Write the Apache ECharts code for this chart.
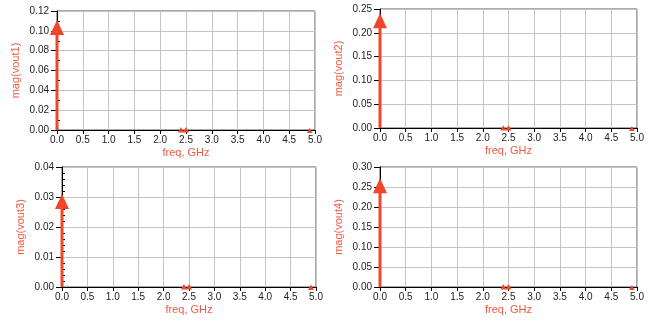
<!DOCTYPE html>
<html><head><meta charset="utf-8">
<script src="https://cdn.jsdelivr.net/npm/echarts@6/dist/echarts.min.js"></script>
<style>html,body{margin:0;padding:0;background:#fff}#c{width:651px;height:329px}</style>
</head><body><div id="c"></div>
<script>
// Data (frequency in GHz, magnitude)
const freqGHz = [0.0, 2.4, 2.5, 4.9];
const vout1Mag = [0.111, 0.003, 0.003, 0.002];
const vout2Mag = [0.241, 0.006, 0.006, 0.004];
const vout3Mag = [0.031, 0.001, 0.001, 0.0008];
const vout4Mag = [0.272, 0.0075, 0.0075, 0.005];
const yNames = ['mag(vout1)', 'mag(vout2)', 'mag(vout3)', 'mag(vout4)'];
const yMax = [0.12, 0.25, 0.04, 0.30];
const yStep = [0.02, 0.05, 0.01, 0.05];
const yMinorSplit = [2, 0, 5, 0];
const xName = 'freq, GHz';

const mags = [vout1Mag, vout2Mag, vout3Mag, vout4Mag];
const RED = '#F0462A';
const NAME_RED = '#F05A42';
const FONT = 'Liberation Sans';

const grids = [
  {left: 57, top: 11, width: 258, height: 119},
  {left: 380, top: 9, width: 257, height: 119},
  {left: 62, top: 167, width: 254, height: 120},
  {left: 380, top: 167, width: 257, height: 120}
];

const chart = echarts.init(document.getElementById('c'), null, {renderer: 'canvas'});

function arrowRender(maxMag) {
  return function (params, api) {
    const f = api.value(0), m = api.value(1);
    const base = api.coord([f, 0]);
    const tip = api.coord([f, m]);
    const r = Math.sqrt(m / maxMag);
    const w = r > 0.9 ? 14 : Math.max(4, 4 + r * 12);
    const h = r > 0.9 ? 15 : w * 0.9;
    const children = [];
    if (base[1] - (tip[1] + h) > 0) {
      children.push({type: 'rect', shape: {x: tip[0] - 1.5, y: tip[1] + h - 1, width: 3, height: base[1] - tip[1] - h + 1},
        style: {fill: RED}});
    }
    children.push({type: 'polygon', shape: {points: [[tip[0], tip[1]], [tip[0] - w / 2, tip[1] + h], [tip[0] + w / 2, tip[1] + h]]},
      style: {fill: RED}});
    return {type: 'group', children: children};
  };
}

const option = {
  animation: false,
  backgroundColor: '#fff',
  grid: grids.map(g => Object.assign({show: true, borderColor: '#555', borderWidth: 1, backgroundColor: 'transparent'}, g)),
  xAxis: grids.map((g, i) => ({
    gridIndex: i, type: 'value', min: 0, max: 5, interval: 0.5,
    name: xName, nameLocation: 'middle', nameGap: 17,
    nameTextStyle: {color: NAME_RED, fontSize: 11, fontFamily: FONT},
    axisLine: {show: true, lineStyle: {color: '#000', width: 1}},
    axisTick: {show: true, length: 4, lineStyle: {color: '#000'}},
    axisLabel: {color: '#222', fontSize: 10, fontFamily: FONT, margin: 5, formatter: v => v.toFixed(1)},
    splitLine: {show: true, lineStyle: {color: '#c4c4c4', width: 1}}
  })),
  yAxis: grids.map((g, i) => ({
    gridIndex: i, type: 'value', min: 0, max: yMax[i], interval: yStep[i],
    name: yNames[i], nameLocation: 'middle', nameGap: 36,
    nameTextStyle: {color: NAME_RED, fontSize: 11, fontFamily: FONT},
    axisLine: {show: true, lineStyle: {color: '#000', width: 1}},
    axisTick: {show: true, length: 6, lineStyle: {color: '#000'}},
    minorTick: {show: yMinorSplit[i] > 0, splitNumber: yMinorSplit[i] || 5, length: -3, lineStyle: {color: '#000'}},
    axisLabel: {color: '#222', fontSize: 10, fontFamily: FONT, margin: 8, formatter: v => v.toFixed(2)},
    splitLine: {show: true, lineStyle: {color: '#c4c4c4', width: 1}}
  })),
  series: mags.map((arr, i) => ({
    type: 'custom', xAxisIndex: i, yAxisIndex: i, clip: false,
    renderItem: arrowRender(Math.max.apply(null, arr)),
    data: freqGHz.map((f, k) => [f, arr[k]])
  }))
};
chart.setOption(option);
</script></body></html>
